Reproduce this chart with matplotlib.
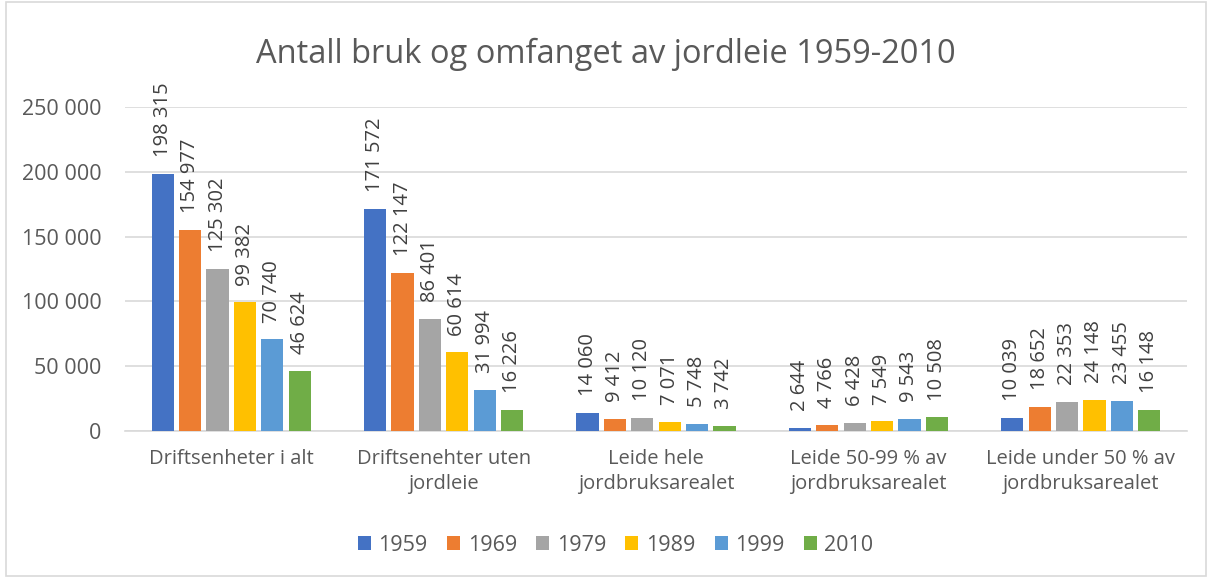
import numpy as np
import matplotlib
matplotlib.use("Agg")
from matplotlib import pyplot as plt

categories = ["Driftsenheter i alt", "Driftsenehter uten\njordleie", "Leide hele\njordbruksarealet",
              "Leide 50-99 % av\njordbruksarealet", "Leide under 50 % av\njordbruksarealet"]
years = ["1959", "1969", "1979", "1989", "1999", "2010"]
v1959 = [198315, 171572, 14060, 2644, 10039]
v1969 = [154977, 122147, 9412, 4766, 18652]
v1979 = [125302, 86401, 10120, 6428, 22353]
v1989 = [99382, 60614, 7071, 7549, 24148]
v1999 = [70740, 31994, 5748, 9543, 23455]
v2010 = [46624, 16226, 3742, 10508, 16148]
series = [v1959, v1969, v1979, v1989, v1999, v2010]
colors = ["#4472C4", "#ED7D31", "#A5A5A5", "#FFC000", "#5B9BD5", "#70AD47"]

plt.rcParams['font.family'] = ['Open Sans', 'DejaVu Sans']
txt = "#595959"

def fmt(v):
    return f"{v:,}".replace(",", " ")

fig = plt.figure(figsize=(12.12, 5.78), dpi=100)
ax = fig.add_axes([125 / 1212, 1 - 431 / 578, 1062 / 1212, 324 / 578])

x = np.arange(len(categories))
step = 0.129
width = 0.104
for i, (vals, c, yr) in enumerate(zip(series, colors, years)):
    pos = x + (i - 2.5) * step
    ax.bar(pos, vals, width, color=c, label=yr, zorder=3)
    for p, v in zip(pos, vals):
        ax.annotate(fmt(v), (p, v), xytext=(0, 12), textcoords="offset points",
                    rotation=90, ha="center", va="bottom", fontsize=14.5, color="#404040")

ax.set_xlim(-0.5, len(categories) - 0.5)
ax.set_ylim(0, 250000)
ax.set_yticks(np.arange(0, 250001, 50000))
ax.set_yticklabels([fmt(v) for v in range(0, 250001, 50000)], fontsize=15.5, color=txt)
ax.set_xticks(x)
ax.set_xticklabels(categories, fontsize=14.5, color=txt, linespacing=1.3)
ax.tick_params(axis="y", length=0, pad=17)
ax.tick_params(axis="x", length=0, pad=13)
ax.grid(axis="y", color="#D9D9D9", linewidth=1.2, zorder=0)
for s in ["top", "right", "left"]:
    ax.spines[s].set_visible(False)
ax.spines["bottom"].set_color("#D9D9D9")
ax.spines["bottom"].set_linewidth(1.2)

fig.suptitle("Antall bruk og omfanget av jordleie 1959-2010", y=0.935, fontsize=23.5, color=txt)
fig.legend(loc="center", bbox_to_anchor=(0.508, 0.057), ncol=6, frameon=False, fontsize=15.5,
           handlelength=0.6, handleheight=0.6, columnspacing=0.9, handletextpad=0.35,
           labelcolor=txt)

fig.patches.append(plt.Rectangle((6 / 1212, 0.003), 1 - 12 / 1212, 0.994, transform=fig.transFigure,
                                 fill=False, edgecolor="#D9D9D9", linewidth=1.2))
fig.savefig("out.png", dpi=100)
